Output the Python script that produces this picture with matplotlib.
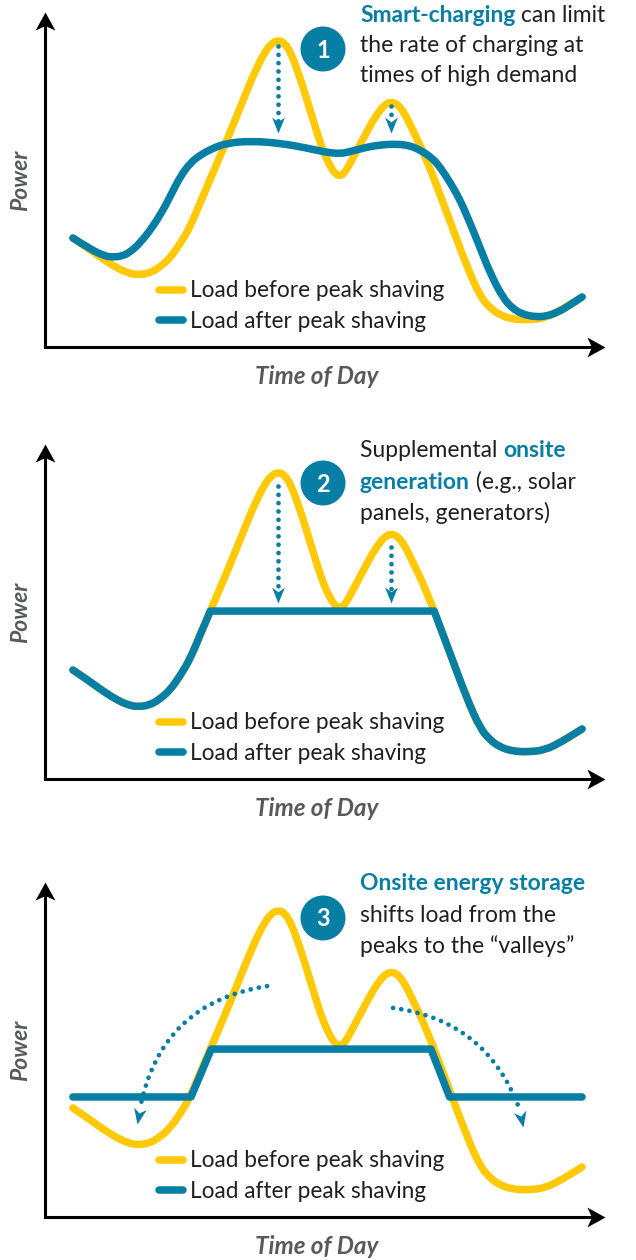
import matplotlib
matplotlib.use('Agg')
import matplotlib.pyplot as plt
from matplotlib.path import Path
from matplotlib.markers import MarkerStyle
from matplotlib.transforms import Affine2D
from matplotlib.patches import FancyArrowPatch, Circle, PathPatch
from matplotlib.lines import Line2D

plt.rcParams['font.family'] = ['Lato', 'DejaVu Sans']

YELLOW = '#FFC907'
BLUE = '#077EA3'
INK = '#231F20'
GREY = '#58595B'

# load before peak shaving: time of day (h) and power (% of the morning peak)
before_t = [1.20, 1.85, 2.37, 3.01, 3.57, 4.00, 4.52, 4.95, 5.38, 5.81, 6.24, 6.67,
            7.18, 7.83, 8.69, 9.12, 9.46, 9.72, 10.02, 10.32, 10.62, 10.97, 11.27,
            11.61, 11.96, 12.26, 12.47, 12.69, 12.90, 13.20, 13.68, 14.07, 14.41,
            14.67, 14.88, 15.14, 15.44, 15.78, 16.43, 17.29, 18.15, 18.71, 19.14,
            19.57, 20.09, 20.73, 21.51, 22.28, 23.10]
before_p = [35.5, 32.2, 29.3, 26.1, 24.1, 23.5, 24.1, 26.1, 29.0, 33.6, 39.1, 46.9,
            56.0, 67.4, 83.7, 91.2, 96.1, 98.7, 100.0, 99.0, 95.1, 87.6, 80.5,
            72.0, 63.8, 59.0, 56.5, 55.6, 56.8, 60.9, 67.8, 73.3, 77.2,
            79.2, 79.8, 79.2, 76.5, 71.3, 60.9, 43.6, 26.1, 16.6, 12.7,
            10.4, 9.1, 8.8, 9.4, 12.4, 16.3]

# 1: smart-charging
smart_t = [1.20, 1.94, 2.58, 2.92, 3.31, 3.66, 4.09, 4.60, 5.08, 5.46, 5.81, 6.24,
           6.67, 7.23, 7.83, 8.82, 10.11, 11.27, 12.04, 12.69, 13.20, 13.85, 14.41,
           14.97, 15.61, 16.13, 16.65, 16.99, 17.42, 17.85, 18.19, 18.58, 19.14,
           19.70, 20.09, 20.52, 21.08, 21.63, 22.15, 22.58, 23.10]
smart_p = [35.5, 31.9, 29.6, 29.3, 29.6, 30.9, 33.9, 38.8, 44.6, 50.2, 55.4, 59.9,
           62.5, 64.8, 66.4, 67.1, 66.4, 64.8, 63.5, 62.9, 63.8, 65.1, 65.8,
           66.1, 65.8, 64.2, 61.6, 58.6, 53.7, 47.9, 42.0, 34.9, 24.1,
           16.0, 12.7, 10.7, 9.8, 10.1, 11.7, 13.7, 16.3]

# 2: onsite generation
gen_t = [1.20, 1.85, 2.37, 3.01, 3.57, 4.00, 4.52, 4.95, 5.38, 5.81, 6.24, 6.67,
         7.11, 16.74, 17.29, 18.15, 18.71, 19.14, 19.57, 20.09, 20.73, 21.51,
         22.28, 23.10]
gen_p = [35.5, 32.2, 29.3, 26.1, 24.1, 23.5, 24.1, 26.1, 29.0, 33.6, 39.1, 46.9,
         54.7, 54.7, 43.6, 26.1, 16.6, 12.7, 10.4, 9.1, 8.8, 9.4, 12.4, 16.3]

# 3: onsite energy storage
store_t = [1.20, 6.28, 7.15, 16.60, 17.40, 23.10]
store_p = [39.1, 39.1, 54.7, 54.7, 39.1, 39.1]

# dotted arrows: (t, p) of start and tip
drop_arrows = [
    [((10.02, 98.0), (10.02, 69.7)), ((14.88, 78.5), (14.88, 69.7))],
    [((10.02, 95.5), (10.02, 57.3)), ((14.88, 75.5), (14.88, 57.3))],
]
shift_arrows = [((9.55, 75.2), (4.09, 35.5), (3.96, 30.3), 0.35, -100.6),
                ((14.97, 68.1), (20.39, 35.5), (20.56, 29.3), -0.30, -78.0)]

captions = [
    [[('Smart-charging', True), (' can limit', False)],
     [('the rate of charging at', False)],
     [('times of high demand', False)]],
    [[('Supplemental ', False), ('onsite', True)],
     [('generation', True), (' (e.g., solar', False)],
     [('panels, generators)', False)]],
    [[('Onsite energy storage', True)],
     [('shifts load from the', False)],
     [('peaks to the \u201cvalleys\u201d', False)]],
]
caption_y = [[22, 52.5, 82], [457, 489, 520], [890, 922, 953]]
badge_y = [49, 483, 918]
after_series = [(smart_t, smart_p, ()), (gen_t, gen_p, (12, 13)),
                (store_t, store_p, (1, 2, 3, 4))]

W, H = 636, 1260
Y0 = [347, 779, 1217]
PX_T = 23.25   # pixels per hour
PX_P = 3.07    # pixels per power unit
LW = 5.4

fig = plt.figure(figsize=(W / 100, H / 100), dpi=100)
fig.patch.set_facecolor('white')

ov = fig.add_axes([0, 0, 1, 1], zorder=5)
ov.set_xlim(0, W)
ov.set_ylim(H, 0)
ov.axis('off')

big_head = Path([(0, 0), (-2, 1.1), (-1.5, 0), (-2, -1.1), (0, 0)],
                [Path.MOVETO, Path.LINETO, Path.LINETO, Path.LINETO, Path.CLOSEPOLY])
small_head = Path([(0, 0), (-2, 0.8), (-1.4, 0), (-2, -0.8), (0, 0)],
                  [Path.MOVETO, Path.LINETO, Path.LINETO, Path.LINETO, Path.CLOSEPOLY])


def head(ax, x, y, angle, path, size, color, transform=None):
    kw = {} if transform is None else {'transform': transform}
    ax.plot([x], [y], ls='none', marker=MarkerStyle(path, transform=Affine2D().rotate_deg(angle)),
            ms=size, mew=0, color=color, clip_on=False, zorder=6, **kw)


def curve(ax, t, p, color, z, corners=()):
    # smooth the read points with quadratic segments, keep the listed corners sharp
    pts = list(zip(t, p))
    verts, codes = [pts[0]], [Path.MOVETO]
    for i in range(1, len(pts) - 1):
        if i in corners:
            verts.append(pts[i])
            codes.append(Path.LINETO)
        else:
            mid = ((pts[i][0] + pts[i + 1][0]) / 2, (pts[i][1] + pts[i + 1][1]) / 2)
            verts += [pts[i], mid]
            codes += [Path.CURVE3, Path.CURVE3]
    verts.append(pts[-1])
    codes.append(Path.LINETO)
    ax.add_patch(PathPatch(Path(verts, codes), facecolor='none', edgecolor=color, lw=LW,
                           capstyle='round', joinstyle='round', zorder=z, clip_on=False))
    return Line2D([], [], color=color, lw=LW, solid_capstyle='round')


dots = dict(color=BLUE, lw=3.4, ls=(0, (0.01, 1.75)), dash_capstyle='round', zorder=5)

for k in range(3):
    y0 = Y0[k]
    ax = fig.add_axes([45 / W, (H - y0) / H, 560 / W, 335 / H])
    ax.set_xlim(0, 560 / PX_T)
    ax.set_ylim(0, 335 / PX_P)
    ax.patch.set_visible(False)
    ax.set_xticks([])
    ax.set_yticks([])
    for s in ['top', 'right']:
        ax.spines[s].set_visible(False)
    for s in ['left', 'bottom']:
        ax.spines[s].set_linewidth(2.2)
        ax.spines[s].set_capstyle('projecting')
    ax.spines['left'].set_bounds(0, (335 - 13) / PX_P)
    ax.spines['bottom'].set_bounds(0, (560 - 13) / PX_T)
    head(ax, 0, 1, 90, big_head, 26, 'black', ax.transAxes)
    head(ax, 1, 0, 0, big_head, 26, 'black', ax.transAxes)

    h1 = curve(ax, before_t, before_p, YELLOW, 2)
    at, ap, corners = after_series[k]
    h2 = curve(ax, at, ap, BLUE, 3, corners)

    if k < 2:
        for (t0, p0), (t1, p1) in drop_arrows[k]:
            ax.plot([t0, t1], [p0, p1 + 12 / PX_P], **dots)
            head(ax, t1, p1, -90, small_head, 23, BLUE)
    else:
        for a, b, tip, rad, ang in shift_arrows:
            arc = FancyArrowPatch(a, b, connectionstyle='arc3,rad=%s' % rad, arrowstyle='-',
                                  color=BLUE, lw=3.4, ls=(0, (0.01, 1.75)), capstyle='round',
                                  shrinkA=0, shrinkB=0, zorder=5)
            ax.add_patch(arc)
            head(ax, tip[0], tip[1], ang, small_head, 23, BLUE)

    ax.legend([h1, h2], ['Load before peak shaving', 'Load after peak shaving'],
              loc='center left', bbox_to_anchor=(159 / W, (H - (y0 - 41)) / H),
              bbox_transform=fig.transFigure, frameon=False, fontsize=16.3,
              labelcolor=INK, handlelength=1.05, handletextpad=0.3,
              labelspacing=0.4, borderpad=0, borderaxespad=0)

    ov.text(21, y0 - 167, 'Power', rotation=90, ha='center', va='center', fontsize=16.5,
            fontweight='bold', style='italic', color=GREY)
    ov.text(317, y0 + 29, 'Time of Day', ha='center', va='center', fontsize=17.5,
            fontweight='bold', style='italic', color=GREY)

    ov.add_patch(Circle((323, badge_y[k]), 22.5, color=BLUE, lw=0))
    ov.text(323, badge_y[k] + 1, str(k + 1), ha='center', va='center', fontsize=17,
            fontweight='bold', color='white')

    r = fig.canvas.get_renderer()
    for parts, yb in zip(captions[k], caption_y[k]):
        x = 360
        for s, bold in parts:
            t = ov.text(x, yb, s, fontsize=16.5, va='baseline', ha='left',
                        color=BLUE if bold else INK, fontweight='bold' if bold else 'normal')
            x += t.get_window_extent(r).width

fig.savefig('out.png', dpi=100)
